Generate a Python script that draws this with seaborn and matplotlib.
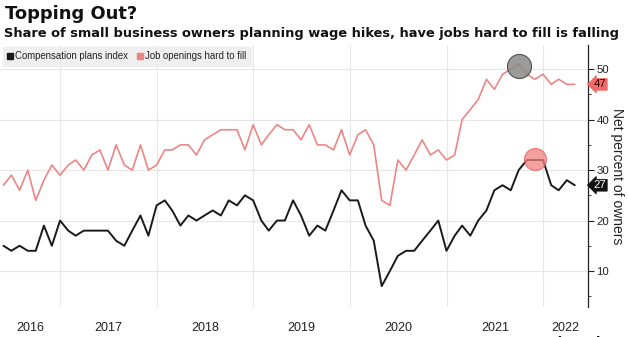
import matplotlib
matplotlib.use("Agg")
import matplotlib.pyplot as plt
import matplotlib.dates as mdates
from matplotlib.ticker import MultipleLocator
from matplotlib.lines import Line2D
import numpy as np
import pandas as pd
import seaborn as sns

# ---------------- data ----------------
start_month = "2016-05-01"
n_months = 72
comp_plans = [15, 14, 15, 14, 14, 19, 15, 20, 18, 17, 18, 18, 18, 18,
              16, 15, 18, 21, 17, 23, 24, 22, 19, 21, 20, 21, 22, 21, 24, 23,
              25, 24, 20, 18, 20, 20, 24, 21, 17, 19,
              18, 22, 26, 24, 24, 19, 16, 7, 10, 13, 14, 14, 16, 18, 20, 14,
              17, 19, 17, 20, 22, 26, 27, 26, 30, 32, 32, 32, 27, 26, 28, 27]
hard_to_fill = [27, 29, 26, 30, 24, 28, 31, 29, 31, 32, 30, 33, 34, 30, 35, 31,
                30, 35, 30, 31, 34, 34, 35, 35, 33, 36, 37, 38, 38, 38, 34, 39,
                35, 37, 39, 38, 38, 36, 39, 35,
                35, 34, 38, 33, 37, 38, 35, 24, 23, 32, 30, 33, 36, 33, 34, 32,
                33, 40, 42, 44, 48, 46, 49, 50, 51, 49, 48, 49, 47, 48, 47, 47]
series_names = ["Compensation plans index", "Job openings hard to fill"]
series_colors = ["#1a1a1a", "#ee8585"]
highlight_idx = [64, 66]          # peak month index of each highlighted series
highlight_vals = [50.6, 32.2]     # circle centres (value axis)
year_labels = ["2016", "2017", "2018", "2019", "2020", "2021", "2022"]
y_ticks = [10, 20, 30, 40, 50]
last_labels = [27, 47]

dates = pd.date_range(start_month, periods=n_months, freq="MS") + pd.offsets.MonthEnd(0)
df = pd.DataFrame({
    "date": np.concatenate([dates, dates]),
    "value": comp_plans + hard_to_fill,
    "series": [series_names[0]] * n_months + [series_names[1]] * n_months,
})

# ---------------- style ----------------
sns.set_style("white")
plt.rcParams["font.family"] = ["DejaVu Sans"]
NARROW = ["Liberation Sans", "DejaVu Sans"]

W, H = 629, 337
fig = plt.figure(figsize=(W / 100, H / 100), dpi=100)
ax = fig.add_axes([0.0, 1 - 307 / H, 588 / W, (307 - 45) / H])

sns.lineplot(data=df, x="date", y="value", hue="series",
             palette=dict(zip(series_names, series_colors)),
             hue_order=series_names[::-1], legend=False, ax=ax, zorder=3)
for line, lw in zip(ax.lines, [1.2, 1.4]):
    line.set_linewidth(lw)

# highlight circles
hl_dates = [dates[i] for i in highlight_idx]
ax.scatter(hl_dates[:1], highlight_vals[:1], s=300, facecolor="#8a8a8a",
           edgecolor="#3a3a3a", linewidth=0.8, alpha=0.85, zorder=4)
ax.scatter(hl_dates[1:], highlight_vals[1:], s=250, facecolor="#f58080",
           edgecolor="#e05a5a", linewidth=0.8, alpha=0.75, zorder=4)

# axes limits
ax.set_xlim(pd.Timestamp("2016-05-18"), pd.Timestamp("2022-06-19"))
ax.set_ylim(2.86, 54.8)

# grid
ax.yaxis.set_major_locator(plt.FixedLocator(y_ticks))
ax.yaxis.set_minor_locator(MultipleLocator(5))
ax.grid(axis="y", which="major", color="#e6e6e6", linewidth=0.8, zorder=0)
ax.xaxis.set_minor_locator(mdates.YearLocator())
ax.grid(axis="x", which="minor", color="#e6e6e6", linewidth=0.8, zorder=0)

# x labels at centre of each visible year
x0, x1 = ax.get_xlim()
centers = []
for y in year_labels:
    a = max(x0, mdates.date2num(pd.Timestamp(f"{y}-01-01")))
    b = min(x1, mdates.date2num(pd.Timestamp(f"{int(y)+1}-01-01")))
    centers.append((a + b) / 2)
ax.set_xticks(centers)
ax.set_xticklabels(year_labels, family=NARROW, fontsize=9, color="#222222")
ax.tick_params(axis="x", which="both", length=0, pad=11)
ax.set_xlabel("")

# right y axis
ax.yaxis.tick_right()
ax.tick_params(axis="y", which="major", direction="out", length=4, width=0.8,
               color="#222222", pad=2)
ax.tick_params(axis="y", which="minor", direction="out", length=2, width=0.6,
               color="#222222")
for lab in ax.get_yticklabels():
    lab.set_family(NARROW)
    lab.set_fontsize(8.2)
    lab.set_color("#222222")
ax.yaxis.set_label_position("right")
ax.set_ylabel("Net percent of owners", rotation=270, family=NARROW,
              fontsize=10, color="#222222", ha="center", va="center")
ax.yaxis.set_label_coords(617.5 / 588, 0.5)
for s in ["top", "left", "bottom"]:
    ax.spines[s].set_visible(False)
ax.spines["right"].set_color("#222222")
ax.spines["right"].set_linewidth(0.9)

# last-value tags
tag_style = [("#111111", "white"), ("#f06a6a", "#3a0000")]
for val, (fc, tc) in zip(last_labels, tag_style):
    ax.annotate(str(val), xy=(1, val), xycoords=("axes fraction", "data"),
                xytext=(4.0, 0), textcoords="offset points", ha="left",
                va="center", family=NARROW, fontsize=8.2, color=tc,
                bbox=dict(boxstyle="larrow,pad=0.08", fc=fc, ec=fc, lw=0.5),
                annotation_clip=False, zorder=6)

# legend
handles = [Line2D([], [], marker="s", linestyle="", markersize=4.5,
                  color=c) for c in series_colors]
leg = fig.legend(handles, series_names, loc="upper left",
                 bbox_to_anchor=(3 / W, 1 - 47 / H), ncol=2, frameon=True,
                 fancybox=False, facecolor="#ececec", edgecolor="#ececec",
                 prop=dict(family=NARROW, size=6.9), handlelength=0.6,
                 handletextpad=0.2, columnspacing=1.0, borderpad=0.45,
                 borderaxespad=0)
for t in leg.get_texts():
    t.set_color("#222222")

# titles
title = fig.text(5 / W, 1 - 14 / H, "Topping Out?", fontsize=12.7,
                 fontweight="bold", va="center", ha="left", color="#111111")
sub = fig.text(4 / W, 1 - 33 / H,
               "Share of small business owners planning wage hikes, have jobs hard to fill is falling",
               fontsize=10.4, fontweight="bold", va="center", ha="left",
               color="#111111")
fig.canvas.draw()
r = fig.canvas.get_renderer()
for t, target in [(title, 133), (sub, 614)]:
    w = t.get_window_extent(r).width
    t.set_fontsize(t.get_fontsize() * target / w)

fig.text(548 / W, 1 / H, "Bloomberg", fontsize=10, fontweight="bold",
         va="top", ha="left", color="#111111")

fig.savefig("out.png", dpi=100)
